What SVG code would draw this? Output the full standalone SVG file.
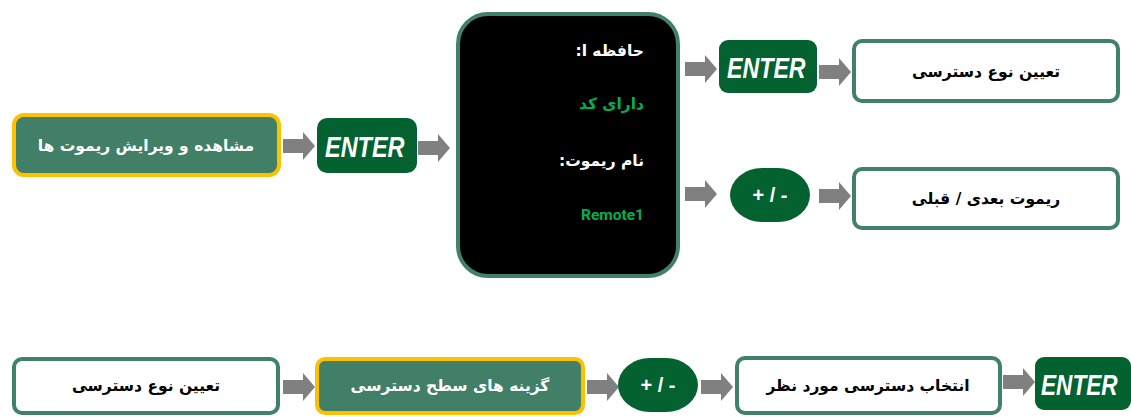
<svg xmlns="http://www.w3.org/2000/svg" xmlns:xlink="http://www.w3.org/1999/xlink" width="1131" height="417" viewBox="0 0 1131 417">
<style>
.ar{font-family:"DejaVu Sans","Noto Sans",sans-serif;font-weight:bold;font-size:15.5px;}
.wbox{fill:#ffffff;stroke:#41806A;stroke-width:4;}
.gbox{fill:#417F66;stroke:#FFC000;stroke-width:4;}
.ent{fill:#046231;}
.entt{font-family:"Liberation Sans",Arial,sans-serif;font-style:italic;font-weight:bold;font-size:29px;fill:#ffffff;}
.pm{font-family:"Liberation Sans",Arial,sans-serif;font-weight:bold;font-size:20px;fill:#ffffff;}
.arrow{fill:#808080;}
</style>
<defs>
<path id="arr" d="M0,-7 H20 V-14 L32,0 L20,14 V7 H0 Z"/>
</defs>
<rect width="1131" height="417" fill="#ffffff"/>
<g id="connectors" class="arrow">
<use xlink:href="#arr" href="#arr" x="283" y="146"/>
<use xlink:href="#arr" href="#arr" x="418" y="148"/>
<use xlink:href="#arr" href="#arr" x="685" y="69"/>
<use xlink:href="#arr" href="#arr" x="819" y="72"/>
<use xlink:href="#arr" href="#arr" x="685" y="194"/>
<use xlink:href="#arr" href="#arr" x="819" y="196"/>
<use xlink:href="#arr" href="#arr" x="283" y="387"/>
<use xlink:href="#arr" href="#arr" x="587" y="387"/>
<use xlink:href="#arr" href="#arr" x="701" y="387"/>
<use xlink:href="#arr" href="#arr" x="1003" y="382"/>
</g>
<g id="n-view">
<rect class="gbox" x="14" y="115" width="265" height="60" rx="10"/>
<text class="ar" x="146" y="151" text-anchor="middle" fill="#ffffff" direction="rtl">مشاهده و ویرایش ریموت ها</text>
</g>
<g id="n-enter1">
<rect class="ent" x="317" y="118" width="100" height="55" rx="10"/>
<text class="entt" transform="translate(325,157) scale(0.81,1)">ENTER</text>
</g>
<g id="n-screen">
<rect x="458" y="14" width="220" height="262" rx="30" fill="#000000" stroke="#41806A" stroke-width="4"/>
<text class="ar" x="644" y="56" fill="#ffffff" direction="rtl" text-anchor="start">حافظه ا:</text>
<text class="ar" x="644" y="109" fill="#00B050" direction="rtl" text-anchor="start">دارای کد</text>
<text class="ar" x="644" y="166" fill="#ffffff" direction="rtl" text-anchor="start">نام ریموت:</text>
<text x="644" y="220" fill="#00B050" text-anchor="end" font-family="Roboto,'Liberation Sans',sans-serif" font-weight="bold" font-size="15.5">Remote1</text>
</g>
<g id="n-enter2">
<rect class="ent" x="719" y="40" width="98" height="53" rx="9"/>
<text class="entt" transform="translate(727,78) scale(0.8,1)">ENTER</text>
</g>
<g id="n-type1">
<rect class="wbox" x="854" y="41" width="264" height="60" rx="8"/>
<text class="ar" x="986" y="77" text-anchor="middle" fill="#000000" direction="rtl">تعیین نوع دسترسی</text>
</g>
<g id="n-pm1">
<rect class="ent" x="730" y="168" width="80" height="54" rx="32" ry="27"/>
<text class="pm" x="770" y="202" text-anchor="middle">+ / -</text>
</g>
<g id="n-next">
<rect class="wbox" x="854" y="169" width="264" height="59" rx="8"/>
<text class="ar" x="986" y="204" text-anchor="middle" fill="#000000" direction="rtl">ریموت بعدی / قبلی</text>
</g>
<g id="n-type2">
<rect class="wbox" x="14" y="359" width="264" height="54" rx="8"/>
<text class="ar" x="146" y="391" text-anchor="middle" fill="#000000" direction="rtl">تعیین نوع دسترسی</text>
</g>
<g id="n-levels">
<rect class="gbox" x="317" y="359" width="266" height="54" rx="8"/>
<text class="ar" x="450" y="391" text-anchor="middle" fill="#ffffff" direction="rtl">گزینه های سطح دسترسی</text>
</g>
<g id="n-pm2">
<rect class="ent" x="618" y="358" width="80" height="54" rx="32" ry="27"/>
<text class="pm" x="658" y="392" text-anchor="middle">+ / -</text>
</g>
<g id="n-select">
<rect class="wbox" x="737" y="358" width="263" height="55" rx="8"/>
<text class="ar" x="868" y="391" text-anchor="middle" fill="#000000" direction="rtl">انتخاب دسترسی مورد نظر</text>
</g>
<g id="n-enter3">
<rect class="ent" x="1035" y="357" width="96" height="53" rx="9"/>
<text class="entt" transform="translate(1041,395) scale(0.78,1)">ENTER</text>
</g>
</svg>
